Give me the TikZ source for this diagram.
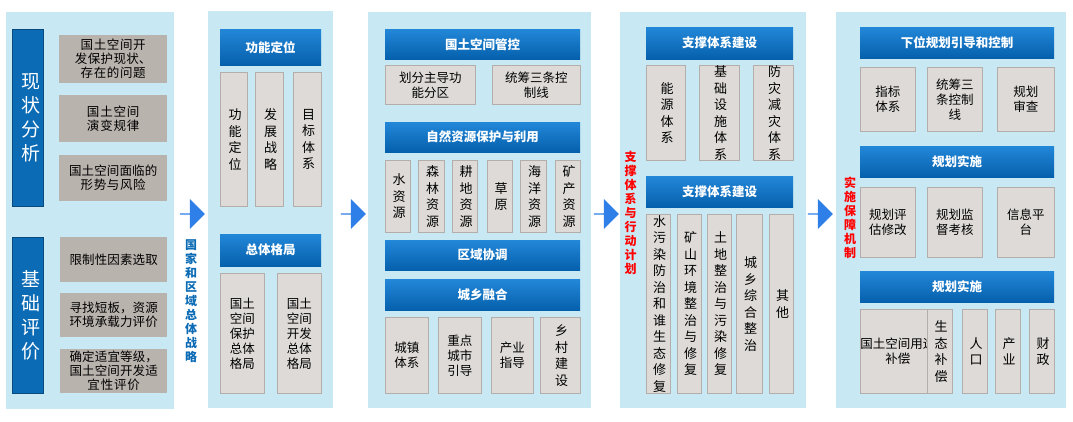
\documentclass[tikz,border=0pt]{standalone}
\usepackage{fontspec}
\setmainfont{Noto Sans CJK SC}
\usetikzlibrary{shapes.arrows}
\XeTeXlinebreaklocale "zh"
\XeTeXlinebreakskip=0pt plus 1pt
\definecolor{panel}{HTML}{C8E8F3}
\definecolor{gbox}{HTML}{B9B3AE}
\definecolor{gcol}{HTML}{DDDAD7}
\definecolor{gline}{HTML}{B3AEA9}
\definecolor{dblue}{HTML}{0B6BB5}
\definecolor{htop}{HTML}{2387D8}
\definecolor{hbot}{HTML}{0560AC}
\definecolor{arr}{HTML}{2F7FE8}
\newcommand\bx[7]{\pgfmathsetmacro\bw{#5-#3}\pgfmathsetmacro\bh{#6-#4}%
\node[#1,anchor=north west,minimum width=\bw pt,minimum height=\bh pt,inner sep=0pt] (#2) at (#3,#4) {#7};}
\tikzset{
 pnl/.style={fill=panel,draw=none},
 bar/.style={fill=dblue,draw=dblue!70!black,text=white,font=\fontsize{19}{24}\selectfont,text width=1.2em,align=center},
 gb/.style={fill=gbox,draw=none,font=\fontsize{12.5}{14}\selectfont,text width=95pt,align=center},
 hd/.style={top color=htop,bottom color=hbot,draw=none,text=white,font=\fontsize{12.5}{15}\selectfont\bfseries},
 vc/.style={fill=gcol,draw=gline,line width=0.8pt,font=\fontsize{13}{16.5}\selectfont,text width=1.05em,align=center},
 hc/.style={fill=gcol,draw=gline,line width=0.8pt,font=\fontsize{12.5}{15}\selectfont,align=center},
 bluearrow/.style={single arrow,fill=arr,draw=none,minimum height=25pt,minimum width=30pt,single arrow head extend=4pt,inner sep=0pt},
 vlab/.style={font=\fontsize{12}{14}\selectfont\bfseries,text width=1em,align=center}
}
\begin{document}
\begin{tikzpicture}[x=1pt,y=-1pt]
\useasboundingbox (0,0) rectangle (1073,421);
% panels
\bx{pnl}{p1}{6}{12}{174}{409}{}
\bx{pnl}{p2}{208}{11}{333}{408}{}
\bx{pnl}{p3}{368}{12}{591}{408}{}
\bx{pnl}{p4}{620}{12}{806}{408}{}
\bx{pnl}{p5}{836}{12}{1066}{408}{}
% arrows
\node[bluearrow] (a1) at (192,214) {};
\node[bluearrow] (a2) at (353,214) {};
\node[bluearrow] (a3) at (606,214) {};
\node[bluearrow] (a4) at (820,214) {};
\node[vlab,text=dblue,anchor=north] (l1) at (190,236) {国家和区域总体战略};
\node[vlab,text=red,anchor=north,text width=1.1em] (l2) at (630,148) {支撑体系与行动计划};
\node[vlab,text=red,anchor=north] (l3) at (849,174) {实施保障机制};
% P1
\bx{bar}{b1}{12}{29}{43}{206}{现状分析}
\bx{bar}{b2}{12}{237}{43}{393}{基础评价}
\bx{gb}{g1}{59}{35}{167}{83}{国土空间开发保护现状、存在的问题}
\bx{gb}{g2}{59}{95}{167}{142}{国土空间演变规律}
\bx{gb}{g3}{59}{155}{167}{201}{国土空间面临的\\形势与风险}
\bx{gb}{g4}{60}{237}{167}{282}{限制性因素选取}
\bx{gb}{g5}{60}{293}{167}{337}{寻找短板，资源环境承载力评价}
\bx{gb}{g6}{60}{349}{167}{393}{确定适宜等级，国土空间开发适\\宜性评价}
% P2
\bx{hd}{h21}{220}{29}{321}{65}{功能定位}
\bx{vc}{c21}{220}{72}{247}{206}{功能定位}
\bx{vc}{c22}{255}{72}{283}{206}{发展战略}
\bx{vc}{c23}{293}{72}{321}{206}{目标体系}
\bx{hd}{h22}{220}{234}{321}{266}{总体格局}
\bx{hc}{c24}{220}{273}{264}{393}{国土\\空间\\保护\\总体\\格局}
\bx{hc}{c25}{277}{273}{321}{393}{国土\\空间\\开发\\总体\\格局}
% P3
\bx{hd}{h31}{385}{29}{580}{59}{国土空间管控}
\bx{hc}{c31}{385}{65}{475}{104}{划分主导功\\能分区}
\bx{hc}{c32}{492}{65}{580}{104}{统筹三条控\\制线}
\bx{hd}{h32}{385}{122}{580}{152}{自然资源保护与利用}
\bx{vc}{c33}{385}{160}{410}{232}{水资源}
\bx{vc}{c34}{418}{160}{444}{232}{森林资源}
\bx{vc}{c35}{452}{160}{477}{232}{耕地资源}
\bx{vc}{c36}{487}{160}{512}{232}{草原}
\bx{vc}{c37}{520}{160}{546}{232}{海洋资源}
\bx{vc}{c38}{555}{160}{580}{232}{矿产资源}
\bx{hd}{h33}{385}{240}{580}{270}{区域协调}
\bx{hd}{h34}{385}{279}{580}{310}{城乡融合}
\bx{hc}{c39}{385}{317}{428}{393}{城镇\\体系}
\bx{hc}{c3a}{438}{317}{481}{393}{重点\\城市\\引导}
\bx{hc}{c3b}{491}{317}{533}{393}{产业\\指导}
\bx{vc}{c3c}{540}{317}{580}{393}{乡村建设}
% P4
\bx{hd}{h41}{646}{27}{793}{59}{支撑体系建设}
\bx{vc}{c41}{646}{65}{685}{160}{能源体系}
\bx{vc}{c42}{699}{65}{739}{160}{基础设施体系}
\bx{vc}{c43}{753}{65}{793}{160}{防灾减灾体系}
\bx{hd}{h42}{646}{176}{793}{207}{支撑体系建设}
\bx{vc}{c44}{646}{214}{670}{393}{水污染防治和谁生态修复}
\bx{vc}{c45}{677}{214}{701}{393}{矿山环境整治与修复}
\bx{vc}{c46}{707}{214}{731}{393}{土地整治与污染修复}
\bx{vc}{c47}{736}{214}{762}{393}{城乡综合整治}
\bx{vc}{c48}{769}{214}{793}{393}{其他}
% P5
\bx{hd}{h51}{860}{27}{1054}{58}{下位规划引导和控制}
\bx{hc}{c51}{860}{67}{915}{131}{指标\\体系}
\bx{hc}{c52}{927}{67}{982}{131}{统筹三\\条控制\\线}
\bx{hc}{c53}{997}{67}{1054}{131}{规划\\审查}
\bx{hd}{h52}{860}{146}{1054}{177}{规划实施}
\bx{hc}{c54}{860}{187}{915}{257}{规划评\\估修改}
\bx{hc}{c55}{927}{187}{982}{257}{规划监\\督考核}
\bx{hc}{c56}{997}{187}{1054}{257}{信息平\\台}
\bx{hd}{h53}{860}{271}{1054}{302}{规划实施}
\bx{hc}{c57}{860}{309}{917}{393}{国土空间用途\\补偿}
\bx{vc}{c58}{927}{309}{952}{393}{生态补偿}
\bx{vc}{c59}{962}{309}{987}{393}{人口}
\bx{vc}{c5a}{995}{309}{1020}{393}{产业}
\bx{vc}{c5b}{1029}{309}{1054}{393}{财政}
\end{tikzpicture}
\end{document}
